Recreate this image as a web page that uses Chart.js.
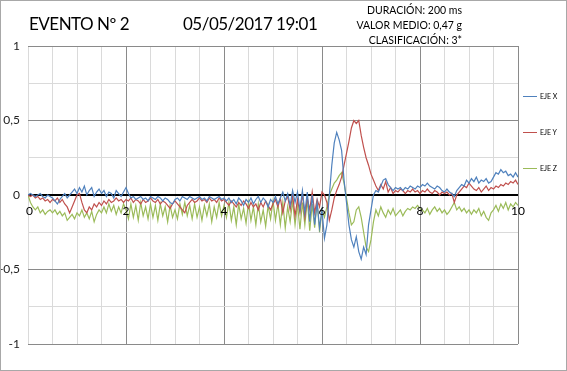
<!DOCTYPE html>
<html>
<head>
<meta charset="utf-8">
<script src="https://cdn.jsdelivr.net/npm/chart.js@4"></script>
<style>
  html, body { margin: 0; padding: 0; background: #fff; }
  #wrap { position: relative; width: 567px; height: 371px; overflow: hidden; font-family: Lato, "Open Sans", sans-serif; color: #000; }
  #chart { position: absolute; left: 0; top: 0; }
  #frame { position: absolute; left: 0; top: 0; width: 567px; height: 371px; box-sizing: border-box; border: 1px solid #a8a8a8; pointer-events: none; }
  .t-big { position: absolute; top: 12px; font-size: 17px; letter-spacing: -0.5px; line-height: 24px; white-space: nowrap; }
  #info { position: absolute; right: 105px; top: 3px; font-size: 10.5px; line-height: 15px; text-align: right; white-space: nowrap; }
  #legend { position: absolute; left: 523px; top: 78px; }
  .lg-item { height: 36px; display: flex; align-items: center; font-size: 7px; white-space: nowrap; }
  .lg-line { display: inline-block; width: 14px; height: 1px; margin-right: 3px; }
</style>
</head>
<body>
<div id="wrap">
  <canvas id="chart" width="567" height="371"></canvas>
  <div class="t-big" style="left:29px;">EVENTO Nº 2</div>
  <div class="t-big" style="left:183px;">05/05/2017 19:01</div>
  <div id="info">DURACIÓN: 200 ms<br>VALOR MEDIO: 0,47 g<br>CLASIFICACIÓN: 3*</div>
  <div id="legend"></div>
  <div id="frame"></div>
</div>
<script>
// ---- data (time axis 0..10, sample step 0.05) ----
const T_STEP = 0.05;
const T_COUNT = 201;
const times = Array.from({length: T_COUNT}, (_, i) => +(i * T_STEP).toFixed(2));

const seriesNames = ['EJE X', 'EJE Y', 'EJE Z'];
const seriesColors = ['#4F81BD', '#C0504D', '#9BBB59'];

const ejeX = [
  0, 0.01, 0, -0.01, 0, 0.01, -0.01, -0.02, 0, -0.01, -0.02,
  -0.04, -0.06, -0.03, -0.01, 0.01, -0.02, 0, 0.02, 0.04, 0.01,
  0.05, 0.02, 0.06, 0, 0.03, 0.05, -0.01, 0.02, 0.04, 0.01,
  0.03, -0.01, 0.02, 0.01, -0.02, 0.03, 0.01, -0.01, 0.02, 0.05,
  0.01, -0.02, -0.01, -0.03, -0.02, -0.01, -0.03, -0.02, -0.04, -0.01,
  -0.02, -0.03, -0.01, -0.02, -0.04, -0.02, -0.03, -0.05, -0.06, -0.03,
  -0.02, -0.04, -0.01, -0.02, -0.03, -0.01, -0.02, -0.03, -0.02, -0.01,
  -0.03, -0.02, -0.04, -0.01, -0.02, -0.03, -0.02, -0.01, -0.03, -0.02,
  -0.04, -0.02, -0.05, -0.03, -0.06, -0.02, -0.04, -0.07, -0.03, -0.05,
  -0.02, -0.06, -0.03, -0.01, -0.05, -0.02, -0.04, -0.08, -0.03, -0.05,
  -0.01, -0.06, -0.02, 0.02, -0.04, 0.01, -0.07, 0.03, -0.05, 0.02,
  -0.1, 0.03, -0.12, 0.02, -0.18, 0.0, -0.2, -0.05, -0.22, -0.1,
  -0.29, -0.2, 0.0, 0.2, 0.35, 0.42, 0.37, 0.3, 0.1, -0.05,
  -0.2, -0.3, -0.35, -0.28, -0.38, -0.43, -0.35, -0.4, -0.2, -0.1,
  0.0, 0.03, 0.02, 0.06, 0.1, 0.11, 0.07, 0.05, 0.03, 0.05,
  0.04, 0.05, 0.03, 0.05, 0.04, 0.06, 0.05, 0.04, 0.06, 0.05,
  0.07, 0.06, 0.08, 0.06, 0.05, 0.04, 0.06, 0.05, 0.03, 0.02,
  0.04, 0.02, 0.01, -0.01, 0.03, 0.05, 0.07, 0.06, 0.1, 0.08,
  0.11, 0.09, 0.12, 0.08, 0.1, 0.09, 0.11, 0.08, 0.09, 0.12,
  0.15, 0.14, 0.17, 0.15, 0.16, 0.13, 0.14, 0.12, 0.15, 0.12
];

const ejeY = [
  0, -0.01, 0, -0.02, -0.01, -0.03, -0.02, -0.04, -0.03, -0.05, -0.03,
  -0.04, -0.02, -0.05, -0.03, -0.06, -0.08, -0.12, -0.08, -0.04, 0.0,
  0.01, -0.05, -0.1, -0.12, -0.08, -0.1, -0.06, -0.08, -0.05, -0.07,
  -0.04, -0.06, -0.03, -0.05, -0.04, -0.02, -0.04, -0.03, -0.05, -0.03,
  -0.04, -0.02, -0.05, -0.03, -0.04, -0.06, -0.03, -0.05, -0.04, -0.02,
  -0.04, -0.05, -0.03, -0.06, -0.04, -0.05, -0.07, -0.09, -0.06, -0.04,
  -0.06, -0.08, -0.1, -0.12, -0.07, -0.05, -0.03, -0.05, -0.04, -0.02,
  -0.04, -0.03, -0.05, -0.02, -0.04, -0.03, -0.05, -0.02, -0.04, -0.03,
  -0.05, -0.07, -0.04, -0.06, -0.08, -0.05, -0.07, -0.04, -0.06, -0.09,
  -0.05, -0.08, -0.06, -0.1, -0.05, -0.08, -0.04, -0.07, -0.1, -0.06,
  -0.03, -0.08, -0.02, -0.12, -0.04, -0.01, -0.1, 0.0, -0.14, -0.03,
  -0.12, 0.01, -0.15, -0.02, -0.1, 0.02, -0.12, -0.03, -0.08, 0.02,
  0.0, -0.05, -0.17, -0.1, -0.02, 0.03, 0.07, 0.12, 0.2, 0.28,
  0.36, 0.45, 0.5, 0.48, 0.5, 0.4, 0.32, 0.25, 0.2, 0.14,
  0.1, 0.06, 0.03, 0.07, 0.04, 0.09, 0.02, 0.05, 0.01, 0.03,
  0.02, 0.04, 0.03, 0.01, 0.03, 0.02, 0.04, 0.02, 0.03, 0.01,
  0.03, 0.02, 0.04, 0.02, 0.01, 0.03, 0.02, 0.0, 0.02, 0.01,
  0.02, 0.0, 0.01, -0.05, 0.0, 0.02, 0.04, 0.06, 0.05, 0.08,
  0.06, 0.04, 0.03, 0.05, 0.02, 0.04, 0.06, 0.03, 0.05, 0.04,
  0.06, 0.05, 0.07, 0.06, 0.08, 0.07, 0.09, 0.08, 0.1, 0.07
];

const ejeZ = [
  0, -0.05, -0.08, -0.1, -0.08, -0.12, -0.1, -0.13, -0.11, -0.1, -0.12,
  -0.1, -0.13, -0.11, -0.14, -0.12, -0.17, -0.15, -0.13, -0.16, -0.12,
  -0.14, -0.1, -0.15, -0.12, -0.16, -0.11, -0.18, -0.13, -0.1, -0.12,
  -0.08, -0.12, -0.06, -0.11, -0.07, -0.13, -0.08, -0.12, -0.06, -0.1,
  -0.16, -0.06, -0.15, -0.07, -0.17, -0.05, -0.14, -0.08, -0.16, -0.06,
  -0.15, -0.07, -0.17, -0.06, -0.14, -0.08, -0.18, -0.07, -0.15, -0.1,
  -0.16, -0.06, -0.13, -0.05, -0.14, -0.07, -0.16, -0.06, -0.15, -0.08,
  -0.17, -0.07, -0.14, -0.06, -0.18, -0.08, -0.15, -0.05, -0.14, -0.07,
  -0.15, -0.05, -0.17, -0.08, -0.2, -0.06, -0.16, -0.09, -0.19, -0.05,
  -0.17, -0.08, -0.2, -0.06, -0.18, -0.1, -0.21, -0.07, -0.16, -0.04,
  -0.17, -0.06, -0.2, -0.05, -0.22, -0.08, -0.18, -0.04, -0.2, -0.06,
  -0.23, -0.05, -0.2, -0.03, -0.24, -0.06, -0.22, -0.04, -0.25, -0.1,
  -0.15, -0.08, 0.0, 0.04, 0.08, 0.1, 0.13, 0.15, 0.08, -0.02,
  -0.12, -0.2, -0.18, -0.1, -0.08, -0.15, -0.25, -0.35, -0.38, -0.3,
  -0.18, -0.1, -0.14, -0.08, -0.12, -0.15, -0.1, -0.13, -0.09, -0.14,
  -0.12, -0.1, -0.14, -0.11, -0.09, -0.1, -0.08, -0.09, -0.07, -0.09,
  -0.1, -0.12, -0.09, -0.13, -0.1, -0.08, -0.11, -0.09, -0.12, -0.1,
  -0.13, -0.11, -0.08, -0.05, -0.1, -0.08, -0.11, -0.09, -0.12, -0.1,
  -0.13, -0.1, -0.12, -0.09, -0.14, -0.11, -0.15, -0.17, -0.12, -0.1,
  -0.07, -0.11, -0.06, -0.09, -0.05, -0.1, -0.06, -0.08, -0.05, -0.07
];

const xTickLabels = [0, 2, 4, 6, 8, 10];
const Y_MIN = -1, Y_MAX = 1;

// ---- legend (HTML, built from the series arrays) ----
const legendEl = document.getElementById('legend');
seriesNames.forEach((name, i) => {
  const item = document.createElement('div');
  item.className = 'lg-item';
  const line = document.createElement('span');
  line.className = 'lg-line';
  line.style.background = seriesColors[i];
  item.appendChild(line);
  item.appendChild(document.createTextNode(name));
  legendEl.appendChild(item);
});

// ---- x labels drawn on the zero line ----
const xLabelsOnZero = {
  id: 'xLabelsOnZero',
  afterDatasetsDraw(chart) {
    const {ctx, scales: {x, y}} = chart;
    const y0 = y.getPixelForValue(0);
    ctx.save();
    ctx.font = '12px Lato, "Open Sans", sans-serif';
    ctx.fillStyle = '#000';
    ctx.textAlign = 'center';
    ctx.textBaseline = 'middle';
    xTickLabels.forEach(v => ctx.fillText(String(v), x.getPixelForValue(v) + (v === 0 ? 1.5 : 0), y0 + 16));
    ctx.restore();
  }
};

const seriesValues = [ejeX, ejeY, ejeZ];

new Chart(document.getElementById('chart'), {
  type: 'line',
  data: {
    labels: times,
    datasets: seriesNames.map((name, i) => ({
      label: name,
      data: seriesValues[i],
      borderColor: seriesColors[i],
      backgroundColor: seriesColors[i],
      borderWidth: 1.2,
      pointRadius: 0,
      tension: 0,
      fill: false
    }))
  },
  options: {
    responsive: false,
    animation: false,
    layout: { padding: { top: 46, right: 49, bottom: 27, left: 0 } },
    plugins: { legend: { display: false }, tooltip: { enabled: false }, title: { display: false } },
    scales: {
      x: {
        type: 'linear', min: 0, max: 10,
        ticks: { display: false, stepSize: 0.5 },
        grid: {
          drawTicks: false,
          lineWidth: 1,
          color: ctx => (ctx.tick && ctx.tick.value !== 0 && ctx.tick.value % 2 === 0) ? '#8a8a8a' : '#dadada'
        },
        border: { display: false },
        afterFit: s => { s.height = 0; }
      },
      y: {
        min: Y_MIN, max: Y_MAX,
        ticks: {
          stepSize: 0.25, padding: 8, color: '#222',
          font: { family: 'Lato, "Open Sans", sans-serif', size: 12 },
          callback: v => (v % 0.5 === 0) ? String(v).replace('.', ',') : ''
        },
        grid: {
          drawTicks: false,
          color: ctx => {
            const v = ctx.tick ? ctx.tick.value : 1;
            if (v === 0) return '#000';
            return v % 0.5 === 0 ? '#8a8a8a' : '#dadada';
          },
          lineWidth: ctx => (ctx.tick && ctx.tick.value === 0) ? 2 : 1
        },
        border: { display: false },
        afterFit: s => { s.width = 28; }
      }
    }
  },
  plugins: [xLabelsOnZero]
});
</script>
</body>
</html>
